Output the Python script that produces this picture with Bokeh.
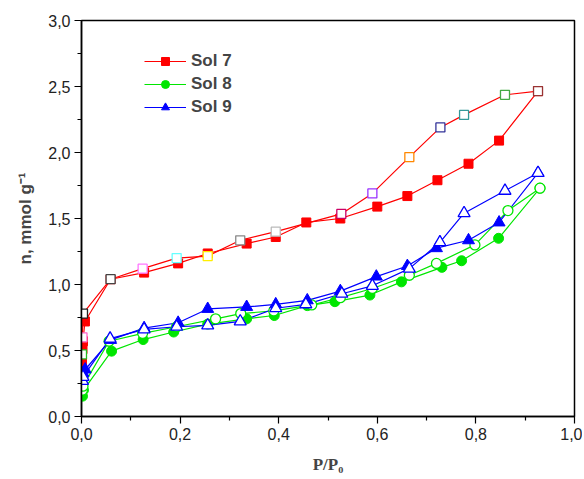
from bokeh.plotting import figure
from bokeh.models import Range1d, FixedTicker, Legend, LegendItem, CustomJSTickFormatter
from bokeh.embed import file_html
from bokeh.resources import INLINE

# ---- data ----
s7_ads_x = [0.001, 0.002, 0.003, 0.007, 0.059, 0.127, 0.196, 0.256, 0.335, 0.394, 0.456, 0.525, 0.600, 0.661, 0.722, 0.785, 0.847, 0.926]
s7_ads_y = [0.42, 0.51, 0.57, 0.72, 1.04, 1.09, 1.16, 1.235, 1.31, 1.36, 1.47, 1.50, 1.59, 1.67, 1.79, 1.915, 2.09, 2.465]
s7_des_x = [0.001, 0.002, 0.003, 0.059, 0.124, 0.193, 0.256, 0.322, 0.394, 0.527, 0.590, 0.665, 0.728, 0.776, 0.859, 0.926]
s7_des_y = [0.47, 0.60, 0.78, 1.04, 1.12, 1.20, 1.215, 1.335, 1.40, 1.535, 1.69, 1.965, 2.19, 2.285, 2.437, 2.465]

s8_ads_x = [0.002, 0.004, 0.061, 0.125, 0.187, 0.256, 0.335, 0.391, 0.458, 0.514, 0.585, 0.649, 0.731, 0.771, 0.846, 0.930]
s8_ads_y = [0.154, 0.20, 0.495, 0.583, 0.64, 0.70, 0.74, 0.765, 0.84, 0.87, 0.92, 1.02, 1.13, 1.18, 1.35, 1.73]
s8_des_x = [0.002, 0.003, 0.056, 0.124, 0.193, 0.272, 0.323, 0.390, 0.467, 0.525, 0.590, 0.665, 0.720, 0.798, 0.865, 0.930]
s8_des_y = [0.20, 0.23, 0.57, 0.63, 0.68, 0.74, 0.78, 0.80, 0.845, 0.90, 0.97, 1.07, 1.16, 1.30, 1.56, 1.73]

s9_ads_x = [0.003, 0.0075, 0.059, 0.127, 0.196, 0.256, 0.335, 0.394, 0.458, 0.525, 0.598, 0.661, 0.720, 0.785, 0.847, 0.926]
s9_ads_y = [0.33, 0.356, 0.58, 0.67, 0.71, 0.815, 0.83, 0.85, 0.88, 0.95, 1.06, 1.14, 1.275, 1.335, 1.47, 1.845]
s9_des_x = [0.002, 0.003, 0.058, 0.127, 0.193, 0.256, 0.322, 0.394, 0.455, 0.528, 0.590, 0.665, 0.727, 0.776, 0.859, 0.926]
s9_des_y = [0.27, 0.30, 0.59, 0.66, 0.68, 0.69, 0.72, 0.82, 0.85, 0.93, 0.99, 1.12, 1.32, 1.54, 1.71, 1.845]

series_names = ["Sol 7", "Sol 8", "Sol 9"]
x_ticks = [0.0, 0.2, 0.4, 0.6, 0.8, 1.0]
x_minor = [0.1, 0.3, 0.5, 0.7, 0.9]
y_ticks = [0.0, 0.5, 1.0, 1.5, 2.0, 2.5, 3.0]
y_minor = [0.25, 0.75, 1.25, 1.75, 2.25, 2.75]

# style: edge colours of Sol 7 desorption markers (Origin's incrementing colours)
s7_des_edges = ["#22BB22", "#FF66CC", "#222222", "#444444", "#FF77FF", "#66FFFF", "#FFEE00",
                "#888888", "#BBBBBB", "#CC0066", "#9933FF", "#FF8800", "#333399", "#339999",
                "#44AA44", "#993333"]

RED, GREEN, BLUE = "#FF0000", "#00E600", "#0000FF"

p = figure(width=582, height=477, output_backend="svg", toolbar_location=None,
           x_range=Range1d(0, 1.0), y_range=Range1d(0, 3.0),
           min_border_left=81, min_border_right=8, min_border_top=20, min_border_bottom=61)
p.xgrid.visible = False
p.ygrid.visible = False
p.outline_line_color = "black"
p.outline_line_width = 1.5
p.background_fill_color = "white"
p.border_fill_color = "white"

fmt = CustomJSTickFormatter(code="return tick.toFixed(1).replace('.', ',');")
p.xaxis.ticker = FixedTicker(ticks=x_ticks, minor_ticks=x_minor)
p.yaxis.ticker = FixedTicker(ticks=y_ticks, minor_ticks=y_minor)
for ax in (p.xaxis[0], p.yaxis[0]):
    ax.formatter = fmt
    ax.axis_line_color = "black"
    ax.axis_line_width = 1.5
    ax.major_tick_line_color = "black"
    ax.minor_tick_line_color = "black"
    ax.major_tick_line_width = 1.2
    ax.minor_tick_line_width = 1.2
    ax.major_tick_in = 0
    ax.major_tick_out = 7
    ax.minor_tick_in = 0
    ax.minor_tick_out = 4
    ax.major_label_text_font = "Liberation Sans"
    ax.major_label_text_font_size = "16px"
    ax.major_label_text_color = "#222222"
    ax.major_label_standoff = 4

p.yaxis.axis_label = "n, mmol g\u207b\u00b9"
p.yaxis.axis_label_text_font = "Liberation Sans"
p.yaxis.axis_label_text_font_style = "bold"
p.yaxis.axis_label_text_font_size = "17px"
p.yaxis.axis_label_standoff = 10

p.xaxis.axis_label = "P/P\u2080"
p.xaxis.axis_label_text_font = "Liberation Serif"
p.xaxis.axis_label_text_font_style = "bold"
p.xaxis.axis_label_text_font_size = "17px"
p.xaxis.axis_label_standoff = 12

LW = 1.2
# lines
l7a = p.line(s7_ads_x, s7_ads_y, line_color=RED, line_width=LW)
p.line(s7_des_x, s7_des_y, line_color=RED, line_width=LW)
l8a = p.line(s8_ads_x, s8_ads_y, line_color=GREEN, line_width=LW)
p.line(s8_des_x, s8_des_y, line_color=GREEN, line_width=LW)
l9a = p.line(s9_ads_x, s9_ads_y, line_color=BLUE, line_width=LW)
p.line(s9_des_x, s9_des_y, line_color=BLUE, line_width=LW)

# markers
m7a = p.scatter(s7_ads_x, s7_ads_y, marker="square", size=9, fill_color=RED, line_color=RED)
p.scatter(s7_des_x, s7_des_y, marker="square", size=9, fill_color="white", line_color=s7_des_edges, line_width=1.3)
m8a = p.scatter(s8_ads_x, s8_ads_y, marker="circle", size=10, fill_color=GREEN, line_color=GREEN)
p.scatter(s8_des_x, s8_des_y, marker="circle", size=10, fill_color="white", line_color=GREEN, line_width=1.3)
m9a = p.scatter(s9_ads_x, s9_ads_y, marker="triangle", size=12, fill_color=BLUE, line_color=BLUE)
p.scatter(s9_des_x, s9_des_y, marker="triangle", size=12, fill_color="white", line_color=BLUE, line_width=1.3)

legend = Legend(items=[LegendItem(label=series_names[0], renderers=[l7a, m7a]),
                       LegendItem(label=series_names[1], renderers=[l8a, m8a]),
                       LegendItem(label=series_names[2], renderers=[l9a, m9a])],
                location=(63, 299))
legend.border_line_color = None
legend.background_fill_alpha = 0
legend.padding = 0
legend.margin = 0
legend.spacing = 3
legend.glyph_width = 42
legend.glyph_height = 20
legend.label_height = 20
legend.label_standoff = 5
legend.label_text_font = "Liberation Sans"
legend.label_text_font_style = "bold"
legend.label_text_font_size = "17px"
p.add_layout(legend)

open("out.html", "w").write(file_html(p, INLINE))
